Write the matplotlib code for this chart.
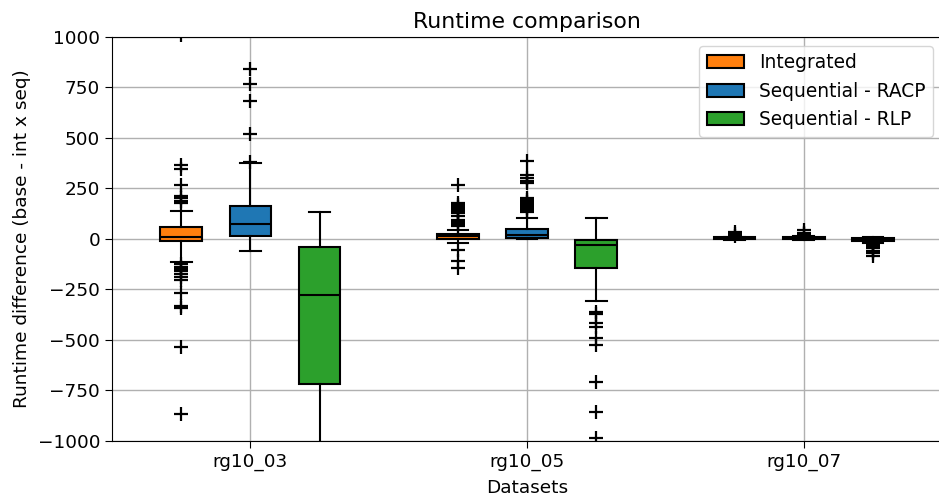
import matplotlib
matplotlib.use("Agg")
import matplotlib.pyplot as plt
from matplotlib.patches import Patch

datasets = ["rg10_03", "rg10_05", "rg10_07"]
methods = ["Integrated", "Sequential - RACP", "Sequential - RLP"]
colors = ["#ff7f0e", "#1f77b4", "#2ca02c"]

# Integrated
int_q1 = [-11, 0, -3]
int_med = [9, 13, 2]
int_q3 = [59, 25, 6]
int_whislo = [-117, -21, -8]
int_whishi = [137, 45, 10]
int_fliers = [
    [1010, 365, 343, 266, 213, 200, 188, 178,
     -125, -140, -150, -160, -175, -190, -205, -270, -333, -345, -535, -868],
    [266, 175, 165, 155, 145, 135, 125, 110, 95, 85, 75, 65, -56, -109, -147],
    [35, 25, 15],
]

# Sequential - RACP
racp_q1 = [15, 5, 0]
racp_med = [73, 18, 4]
racp_q3 = [162, 46, 9]
racp_whislo = [-59, -3, -5]
racp_whishi = [373, 102, 12]
racp_fliers = [
    [840, 766, 683, 518, 382],
    [385, 315, 302, 287, 274, 200, 190, 180, 170, 160, 150, 140, 130],
    [43, 30, 22],
]

# Sequential - RLP
rlp_q1 = [-719, -144, -11]
rlp_med = [-279, -31, -4]
rlp_q3 = [-40, -8, 5]
rlp_whislo = [-1500, -308, -20]
rlp_whishi = [134, 101, 7]
rlp_fliers = [
    [],
    [-361, -373, -416, -435, -490, -526, -711, -858, -988],
    [-25, -35, -48, -60, -72, -85],
]

series = [
    (int_q1, int_med, int_q3, int_whislo, int_whishi, int_fliers),
    (racp_q1, racp_med, racp_q3, racp_whislo, racp_whishi, racp_fliers),
    (rlp_q1, rlp_med, rlp_q3, rlp_whislo, rlp_whishi, rlp_fliers),
]

fig = plt.figure(figsize=(9.39, 5.0), dpi=100)
ax = fig.add_axes([0.1193, 0.1186, 0.884, 0.808])
ax.set_axisbelow(True)
ax.grid(True, color="#b0b0b0", linewidth=1.0)

for m, (q1, med, q3, lo, hi, fl) in enumerate(series):
    stats = []
    positions = []
    for d in range(len(datasets)):
        stats.append(dict(q1=q1[d], med=med[d], q3=q3[d], whislo=lo[d],
                          whishi=hi[d], fliers=fl[d], label=""))
        positions.append(4 * d + 1 + m)
    ax.bxp(stats, positions=positions, widths=0.6, patch_artist=True,
           manage_ticks=False,
           boxprops=dict(facecolor=colors[m], edgecolor="black", linewidth=1.5),
           medianprops=dict(color="black", linewidth=1.5),
           whiskerprops=dict(color="black", linewidth=1.5),
           capprops=dict(color="black", linewidth=1.5),
           flierprops=dict(marker="+", markersize=9.5, markeredgewidth=1.6,
                           markeredgecolor="black", linestyle="none"))

ax.set_xlim(0, 12)
ax.set_ylim(-1000, 1000)
ax.set_xticks([4 * d + 2 for d in range(len(datasets))])
ax.set_xticklabels(datasets, fontsize=13.3)
ax.set_yticks([-1000, -750, -500, -250, 0, 250, 500, 750, 1000])
ax.tick_params(axis="both", labelsize=13.3, length=5)
ax.set_xlabel("Datasets", fontsize=13.3, labelpad=6)
ax.set_ylabel("Runtime difference (base - int x seq)", fontsize=13.3, labelpad=5)
ax.set_title("Runtime comparison", fontsize=15.8, pad=6)

handles = [Patch(facecolor=c, edgecolor="black", linewidth=1.5, label=l)
           for c, l in zip(colors, methods)]
ax.legend(handles=handles, loc="upper right", fontsize=13.4, framealpha=0.8)

fig.savefig("out.png", dpi=100)
